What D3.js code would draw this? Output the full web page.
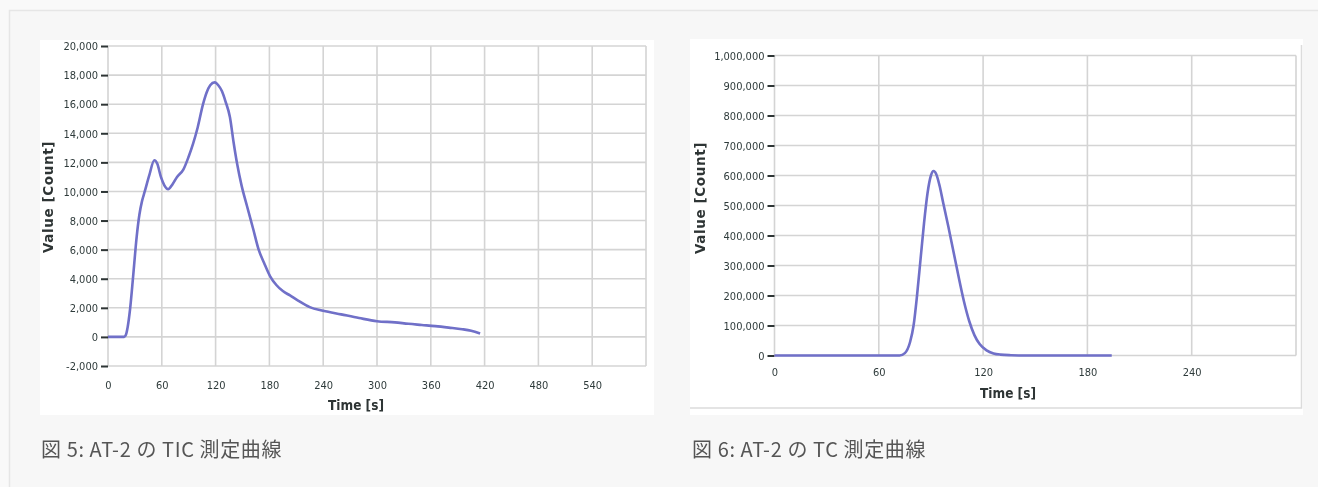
<!DOCTYPE html>
<html>
<head>
<meta charset="utf-8">
<script src="https://cdn.jsdelivr.net/npm/d3@7"></script>
<style>
  html, body { margin: 0; padding: 0; background: #f9f9f9; }
  svg { display: block; }
</style>
</head>
<body>
<svg id="page" width="1318" height="487"></svg>
<script>
// Figure 5: total ion count (TIC) curve for AT-2
const ticTime  = [0, 10, 18, 20, 22, 24.5, 28, 32, 35, 38, 41, 46, 51.6, 55, 59, 63, 67, 72, 77, 84, 90, 95, 100, 106, 110, 114, 119, 123, 127, 131, 136, 140, 144, 149, 155, 162, 168, 174, 181, 188, 195, 203, 212, 225, 240, 260, 280, 300, 320, 335, 350, 365, 380, 395, 405, 415];
const ticCount = [0, 0, 0, 150, 700, 1850, 4140, 6900, 8400, 9350, 10000, 11100, 12150, 11900, 11000, 10400, 10150, 10500, 11000, 11500, 12400, 13300, 14400, 16000, 16800, 17300, 17500, 17300, 16900, 16200, 15100, 13400, 11900, 10400, 9000, 7400, 6000, 5100, 4150, 3550, 3150, 2850, 2500, 2050, 1800, 1550, 1300, 1080, 1000, 900, 820, 740, 640, 530, 420, 230];
const ticXTicks = [0, 60, 120, 180, 240, 300, 360, 420, 480, 540];
const ticYTicks = [-2000, 0, 2000, 4000, 6000, 8000, 10000, 12000, 14000, 16000, 18000, 20000];

// Figure 6: TC curve for AT-2
const tcTime  = [0, 30, 60, 72, 75, 78, 80, 82, 84, 86, 88, 90, 91.5, 93, 95, 97, 100, 103, 106, 109, 112, 115, 118, 122, 126, 130, 136, 145, 160, 194];
const tcCount = [0, 0, 0, 0, 8000, 45000, 100000, 200000, 320000, 440000, 540000, 600000, 615000, 605000, 565000, 510000, 430000, 345000, 260000, 180000, 115000, 68000, 38000, 17000, 7000, 3000, 1000, 0, 0, 0];
const tcXTicks = [0, 60, 120, 180, 240];
const tcYTicks = [0, 100000, 200000, 300000, 400000, 500000, 600000, 700000, 800000, 900000, 1000000];

const captions = ["図 5: AT-2 の TIC 測定曲線", "図 6: AT-2 の TC 測定曲線"];
const xTitle = "Time [s]";
const yTitle = "Value [Count]";

const fmt = d3.formatLocale({ decimal: ".", thousands: ",", grouping: [3], currency: ["", ""], minus: "-" }).format(",");

const svg = d3.select("#page");

// soft look of the embedded chart images
const defs = svg.append("defs");
defs.append("filter").attr("id", "soft")
  .attr("x", "-5%").attr("y", "-5%").attr("width", "110%").attr("height", "110%")
  .append("feGaussianBlur").attr("stdDeviation", 0.45);

// page frame
svg.append("rect").attr("x", 9.5).attr("y", 10.5).attr("width", 1400).attr("height", 600)
  .attr("fill", "#f7f7f7").attr("stroke", "#e6e6e6").attr("stroke-width", 1.5);

const tickFont = "'Liberation Sans Narrow', 'DejaVu Sans Condensed', sans-serif";
const titleFont = "'DejaVu Sans Condensed', 'DejaVu Sans', sans-serif";
const textColor = "#2f3b3b";

function drawChart(cfg) {
  const g = svg.append("g");
  // white image background
  g.append("rect").attr("x", cfg.box[0]).attr("y", cfg.box[1])
    .attr("width", cfg.box[2]).attr("height", cfg.box[3]).attr("fill", "#ffffff");
  if (cfg.frame) {
    g.append("path")
      .attr("d", `M${cfg.frame.right},${cfg.box[1] + 6}V${cfg.frame.bottom}H${cfg.box[0]}`)
      .attr("fill", "none").attr("stroke", "#dcdcdc").attr("stroke-width", 1.5);
  }

  const c = g.append("g").attr("filter", "url(#soft)");
  const x = d3.scaleLinear().domain(cfg.xDomain).range([cfg.plot.left, cfg.plot.right]);
  const y = d3.scaleLinear().domain(cfg.yDomain).range([cfg.plot.bottom, cfg.plot.top]);

  // grid: horizontal at every y tick, vertical at x ticks plus the right edge
  const grid = c.append("g").attr("stroke", "#d4d4d4").attr("stroke-width", 1.6);
  grid.selectAll("line.h").data(cfg.yTicks).join("line").attr("class", "h")
    .attr("x1", cfg.plot.left).attr("x2", cfg.plot.right)
    .attr("y1", d => y(d)).attr("y2", d => y(d));
  grid.selectAll("line.v").data(cfg.xTicks.concat([cfg.xDomain[1]])).join("line").attr("class", "v")
    .attr("x1", d => x(d)).attr("x2", d => x(d))
    .attr("y1", cfg.plot.top).attr("y2", cfg.plot.bottom);

  // y axis: short dark tick dashes with comma-formatted labels
  const yAxis = d3.axisLeft(y).tickValues(cfg.yTicks).tickFormat(fmt).tickSize(7).tickPadding(3);
  const ya = c.append("g").attr("transform", `translate(${cfg.plot.left},0)`).call(yAxis);
  ya.select(".domain").remove();
  ya.selectAll(".tick line").attr("stroke", "#2e3434").attr("stroke-width", 2);
  ya.selectAll(".tick text").attr("fill", textColor).attr("font-family", tickFont)
    .attr("font-size", 11).attr("dy", "0.34em");

  // x axis: labels only
  const xAxis = d3.axisBottom(x).tickValues(cfg.xTicks).tickFormat(d3.format("d")).tickSize(0).tickPadding(cfg.xPad);
  const xa = c.append("g").attr("transform", `translate(0,${cfg.plot.bottom})`).call(xAxis);
  xa.select(".domain").remove();
  xa.selectAll(".tick text").attr("fill", textColor).attr("font-family", tickFont).attr("font-size", 11);

  // data line
  const line = d3.line().x(d => x(d[0])).y(d => y(d[1])).curve(d3.curveMonotoneX);
  c.append("path").datum(d3.zip(cfg.time, cfg.value))
    .attr("d", line).attr("fill", "none")
    .attr("stroke", "#6f6fc8").attr("stroke-width", 2.6).attr("stroke-linejoin", "round");

  // axis titles
  c.append("text").attr("x", cfg.xTitlePos[0]).attr("y", cfg.xTitlePos[1])
    .attr("text-anchor", "middle").attr("font-family", titleFont).attr("font-weight", "bold")
    .attr("font-size", 13.5).attr("fill", "#2e3434").text(xTitle);
  c.append("text")
    .attr("transform", `translate(${cfg.yTitlePos[0]},${cfg.yTitlePos[1]}) rotate(-90)`)
    .attr("text-anchor", "middle").attr("dy", "0.35em")
    .attr("font-family", "'DejaVu Sans', sans-serif").attr("font-weight", "bold")
    .attr("font-size", 13.5).attr("letter-spacing", 0.6).attr("fill", "#2e3434").text(yTitle);

  // caption below the image
  svg.append("text").attr("x", cfg.captionPos[0]).attr("y", cfg.captionPos[1])
    .attr("font-family", "'Noto Sans CJK JP', 'Noto Sans', sans-serif")
    .attr("font-size", 20).attr("letter-spacing", 0.6).attr("fill", "#555555").text(cfg.caption);
}

drawChart({
  box: [40, 40, 614, 375],
  plot: { left: 108, right: 646, top: 46, bottom: 366 },
  xDomain: [0, 600], yDomain: [-2000, 20000],
  xTicks: ticXTicks, yTicks: ticYTicks,
  time: ticTime, value: ticCount,
  xPad: 15,
  xTitlePos: [356, 410],
  yTitlePos: [48, 197],
  caption: captions[0], captionPos: [41, 457]
});

drawChart({
  box: [690, 39, 613, 376],
  frame: { right: 1301.5, bottom: 408 },
  plot: { left: 774.5, right: 1296, top: 55.5, bottom: 355.5 },
  xDomain: [0, 300], yDomain: [0, 1000000],
  xTicks: tcXTicks, yTicks: tcYTicks,
  time: tcTime, value: tcCount,
  xPad: 13,
  xTitlePos: [1008, 398],
  yTitlePos: [700, 198],
  caption: captions[1], captionPos: [692, 457]
});
</script>
</body>
</html>
